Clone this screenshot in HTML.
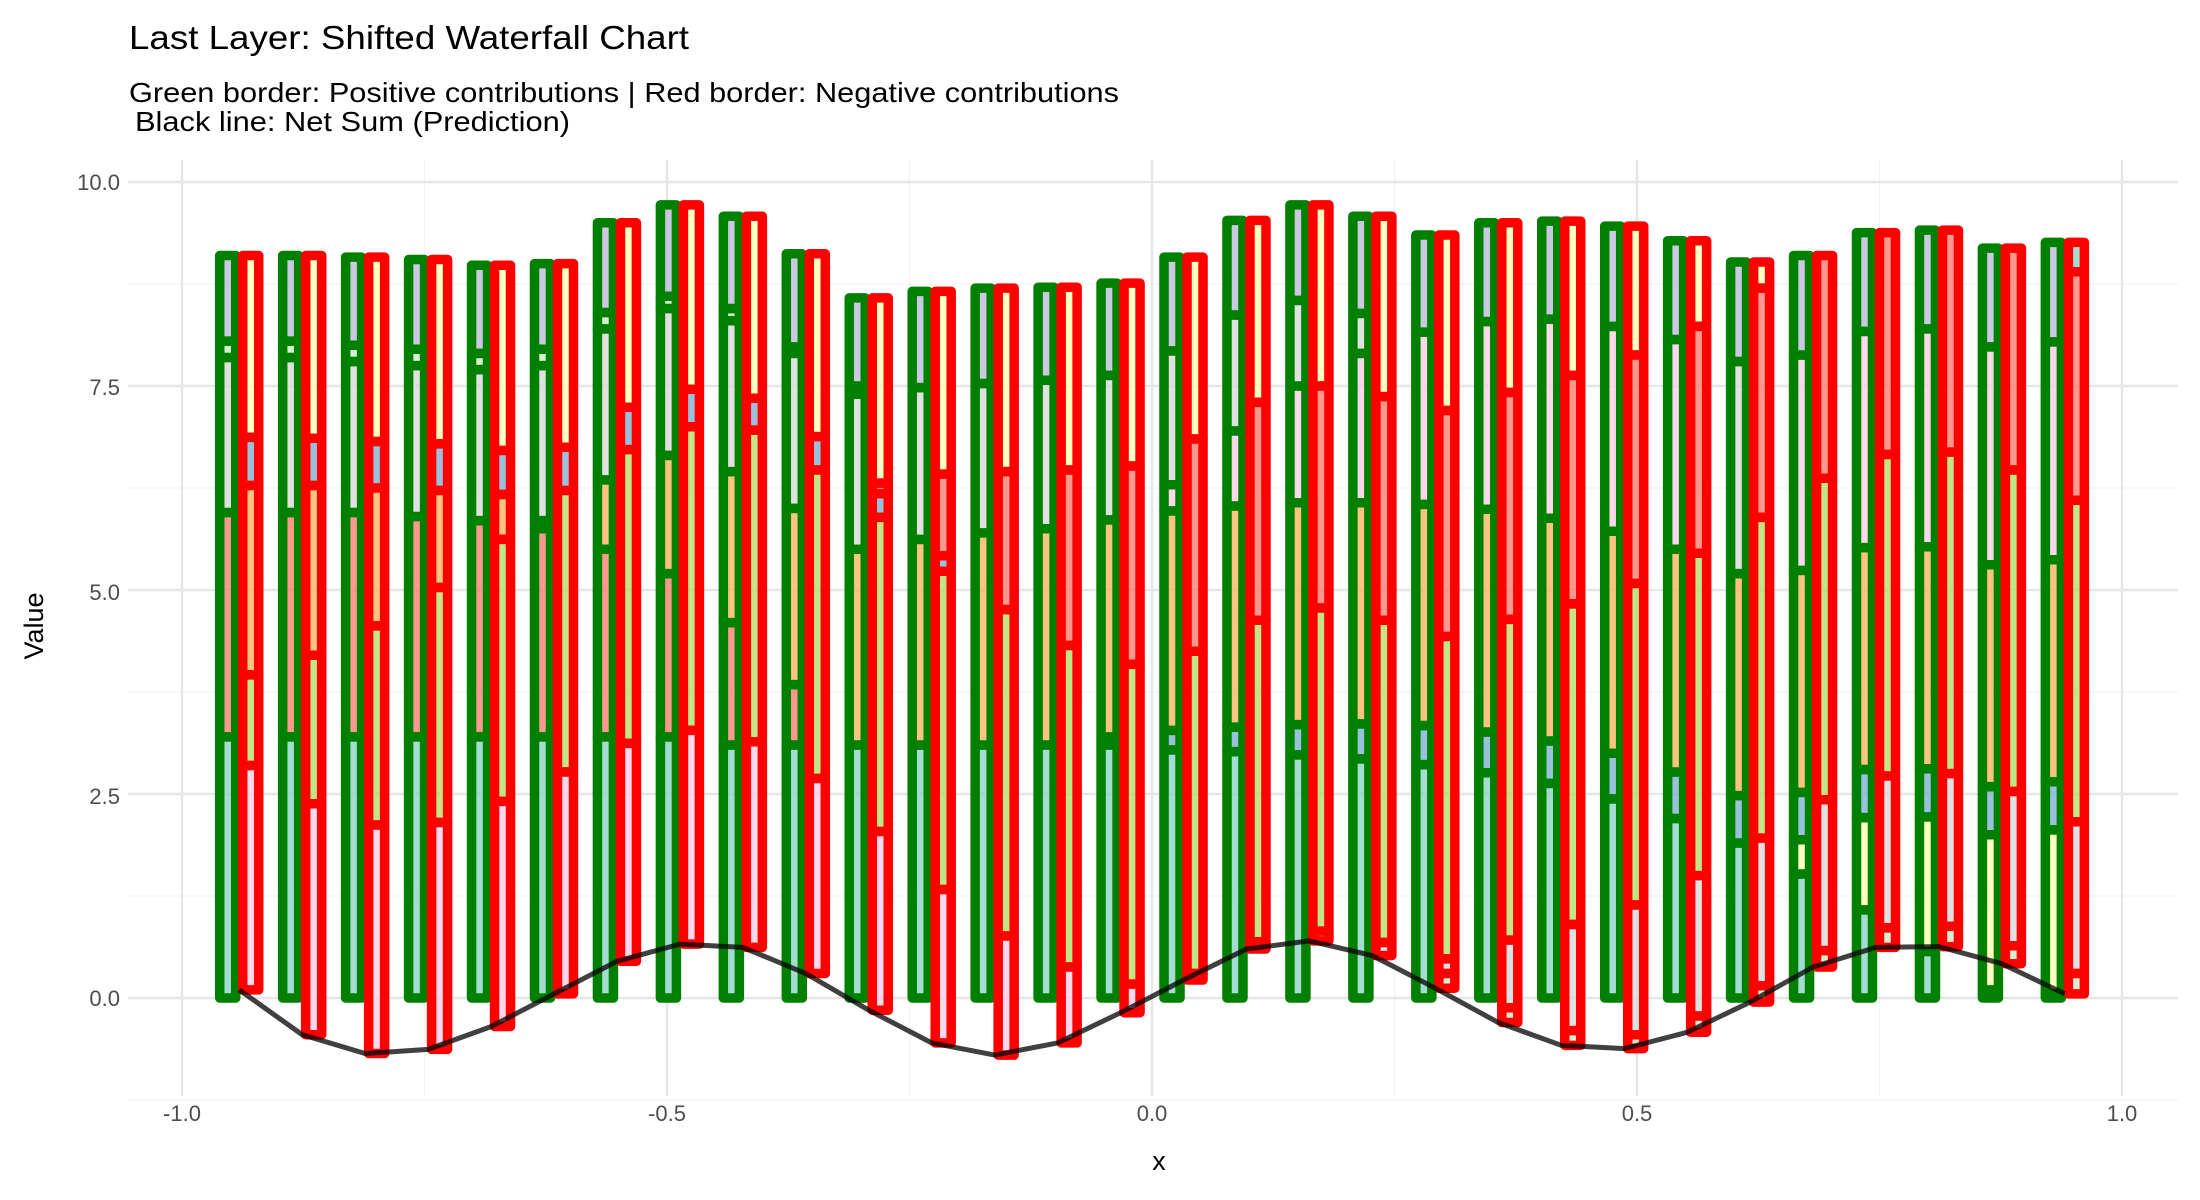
<!DOCTYPE html>
<html><head><meta charset="utf-8"><style>
html,body{margin:0;padding:0;background:#fff;}
svg{display:block;font-family:"Liberation Sans",Arial,sans-serif;}
</style></head><body>
<svg id="s" width="2200" height="1200" viewBox="0 0 2200 1200" xmlns="http://www.w3.org/2000/svg">
<rect width="2200" height="1200" fill="#fff"/>
<g id="grid"></g>
<g id="bars"></g>
<g id="line"></g>
<text x="129" y="49" font-size="33" fill="#000" textLength="560" lengthAdjust="spacingAndGlyphs">Last Layer: Shifted Waterfall Chart</text>
<text x="129" y="102" font-size="28" fill="#000" textLength="990" lengthAdjust="spacingAndGlyphs">Green border: Positive contributions | Red border: Negative contributions</text>
<text x="135" y="131" font-size="28" fill="#000" textLength="435" lengthAdjust="spacingAndGlyphs">Black line: Net Sum (Prediction)</text>
<g font-size="22" fill="#4d4d4d">
<text x="120" y="190" text-anchor="end">10.0</text>
<text x="120" y="395" text-anchor="end">7.5</text>
<text x="120" y="600" text-anchor="end">5.0</text>
<text x="120" y="804" text-anchor="end">2.5</text>
<text x="120" y="1006" text-anchor="end">0.0</text>
<text x="182" y="1121" text-anchor="middle">-1.0</text>
<text x="667" y="1121" text-anchor="middle">-0.5</text>
<text x="1152" y="1121" text-anchor="middle">0.0</text>
<text x="1637" y="1121" text-anchor="middle">0.5</text>
<text x="2122" y="1121" text-anchor="middle">1.0</text>
</g>
<text x="1159" y="1170" font-size="27" text-anchor="middle" fill="#000">x</text>
<text transform="translate(43,626) rotate(-90)" font-size="27" text-anchor="middle" fill="#000">Value</text>
</svg>
<script>
const X=v=>1152+970*v, Y=v=>998-81.6*v;
const L=128,R=2178,T=160,B=1096;
let g='';
[-1.25,1.25,3.75,6.25,8.75].forEach(v=>{g+=`<line x1="${L}" x2="${R}" y1="${Y(v)}" y2="${Y(v)}" stroke="#f3f3f3" stroke-width="1.2"/>`;});
[-0.75,-0.25,0.25,0.75].forEach(v=>{g+=`<line y1="${T}" y2="${B}" x1="${X(v)}" x2="${X(v)}" stroke="#f3f3f3" stroke-width="1.2"/>`;});
[0,2.5,5,7.5,10].forEach(v=>{g+=`<line x1="${L}" x2="${R}" y1="${Y(v)}" y2="${Y(v)}" stroke="#e6e6e6" stroke-width="2.4"/>`;});
[-1,-0.5,0,0.5,1].forEach(v=>{g+=`<line y1="${T}" y2="${B}" x1="${X(v)}" x2="${X(v)}" stroke="#e6e6e6" stroke-width="2.4"/>`;});
document.getElementById('grid').innerHTML=g;
const C={T:'#8DD3C7',Y:'#FFFFB3',L:'#BEBADA',S:'#FB8072',B:'#80B1D3',O:'#FDB462',G:'#B3DE69',P:'#FCCDE5',R:'#D9D9D9',C:'#CCEBC5'};
const GR=[
"T3.2 S5.95 R7.85 C8.05 L9.1","T3.2 S5.95 R7.85 C8.05 L9.1","T3.2 S5.95 R7.8 C8.0 L9.08","T3.2 S5.9 R7.75 C7.95 L9.05","T3.2 S5.85 R7.7 C7.9 L8.98",
"T3.2 S5.75 O5.85 R7.75 C7.95 L9.0","T3.2 S5.5 O6.35 R8.2 C8.4 L9.5","T3.2 S5.2 O6.65 R8.45 C8.6 L9.72","T3.1 S4.6 O6.45 R8.3 C8.45 L9.58","T3.1 S3.84 O6.0 R7.9 C7.98 L9.12",
"T3.1 O5.5 R7.4 C7.5 L8.58","T3.1 O5.62 R7.48 L8.66","T3.1 O5.7 R7.53 L8.7","T3.1 O5.75 R7.57 L8.71","T3.1 C3.2 O5.86 R7.63 L8.76",
"T3.04 B3.28 O5.97 P6.29 R7.93 L9.08","T3.02 B3.32 O6.03 P6.95 R8.37 L9.53","T2.98 B3.35 O6.07 P7.5 R8.55 L9.72","T2.93 B3.36 O6.07 P7.9 R8.39 L9.58","T2.86 B3.34 O6.05 P8.16 L9.35",
"T2.76 B3.26 O5.99 P8.29 L9.5","T2.63 B3.15 O5.88 P8.32 L9.52","T2.44 B3.0 O5.72 P8.23 L9.46","T2.2 B2.77 O5.5 P8.07 L9.28","T1.9 B2.48 O5.2 R7.8 L9.02",
"T1.52 Y1.94 B2.52 O5.24 P7.88 L9.1","T1.08 Y2.21 B2.8 O5.52 P8.17 L9.38","T0.57 Y2.22 B2.81 O5.53 P8.2 L9.41","T0.1 Y2.0 B2.59 O5.31 P7.98 L9.19","T0.05 Y2.06 B2.65 O5.37 P8.04 L9.26"];
const NET=[0.1,-0.45,-0.68,-0.63,-0.35,0.05,0.45,0.66,0.62,0.3,-0.15,-0.55,-0.7,-0.55,-0.18,0.22,0.6,0.7,0.52,0.12,-0.3,-0.58,-0.62,-0.42,-0.05,0.38,0.62,0.63,0.42,0.05];
const RD=[
"Y6.87 B6.28 O3.96 G2.85 P","Y6.86 B6.28 O4.2 G2.38 P","Y6.82 B6.25 O4.56 G2.12 P","Y6.79 B6.22 O5.03 G2.15 P","Y6.71 B6.17 O5.62 G2.41 P",
"Y6.75 B6.22 G2.77 P","Y7.24 B6.72 G3.12 P","Y7.46 B7.0 G3.28 P","Y7.35 B6.96 G3.14 P","Y6.88 B6.47 G2.69 P",
"Y6.31 S6.18 B5.89 G2.04 P","Y6.42 S5.42 B5.23 G1.33 P","Y6.45 S4.76 G0.76 P","Y6.47 S4.32 G0.38 P","Y6.52 S4.09 G0.17 P",
"Y6.85 S4.25 G0.3 P","Y7.3 S4.63 G0.69 P","Y7.5 S4.78 G0.82 P","Y7.37 S4.63 G0.68 R","Y7.2 S4.43 G0.48 R0.3 C",
"Y7.42 S4.64 G0.71 R-0.12 C","Y7.63 S4.83 G0.9 R-0.4 C","Y7.88 S5.08 G1.14 R-0.45 C","Y8.23 S5.45 G1.5 R-0.22 C","Y8.7 S5.89 G1.96 R0.15 C",
"S6.37 G2.43 R0.58 C","S6.66 G2.72 R0.86 C","S6.69 G2.75 R0.88 C","S6.47 G2.53 R0.64 C","T8.9 S6.1 G2.16 R0.3 C"];
const W=16, SW=9.5;
let gs='', rs='', pts=[];
for(let i=0;i<30;i++){
  const x=-0.941+i*0.0649, px=X(x);
  const gx=px-11.5, rx=px+11.5;
  let prev=0, top=0;
  GR[i].split(' ').forEach(t=>{const k=t[0],v=parseFloat(t.slice(1));
    gs+=`<rect x="${gx-W/2}" y="${Y(v)}" width="${W}" height="${Math.max(0.1,Y(prev)-Y(v))}" fill="${C[k]}" fill-opacity="0.8" stroke="#008000" stroke-width="${SW}" stroke-linejoin="round"/>`;
    prev=v; top=v;});
  let cur=top; const segs=RD[i].split(' ');
  segs.forEach((t,j)=>{const k=t[0]; let v=t.length>1?parseFloat(t.slice(1)):NET[i];
    if(j==segs.length-1) v=NET[i];
    const y1=Y(cur), y2=Y(v);
    rs+=`<rect x="${rx-W/2}" y="${Math.min(y1,y2)}" width="${W}" height="${Math.max(0.1,Math.abs(y2-y1))}" fill="${C[k]}" fill-opacity="0.8" stroke="#ff0000" stroke-width="${SW}" stroke-linejoin="round"/>`;
    cur=v;});
  pts.push(px.toFixed(1)+','+Y(NET[i]).toFixed(1));
}
document.getElementById('bars').innerHTML=gs+rs;
document.getElementById('line').innerHTML=`<polyline points="${pts.join(' ')}" fill="none" stroke="#000" stroke-opacity="0.75" stroke-width="5" stroke-linejoin="round"/>`;
</script>
</body></html>
